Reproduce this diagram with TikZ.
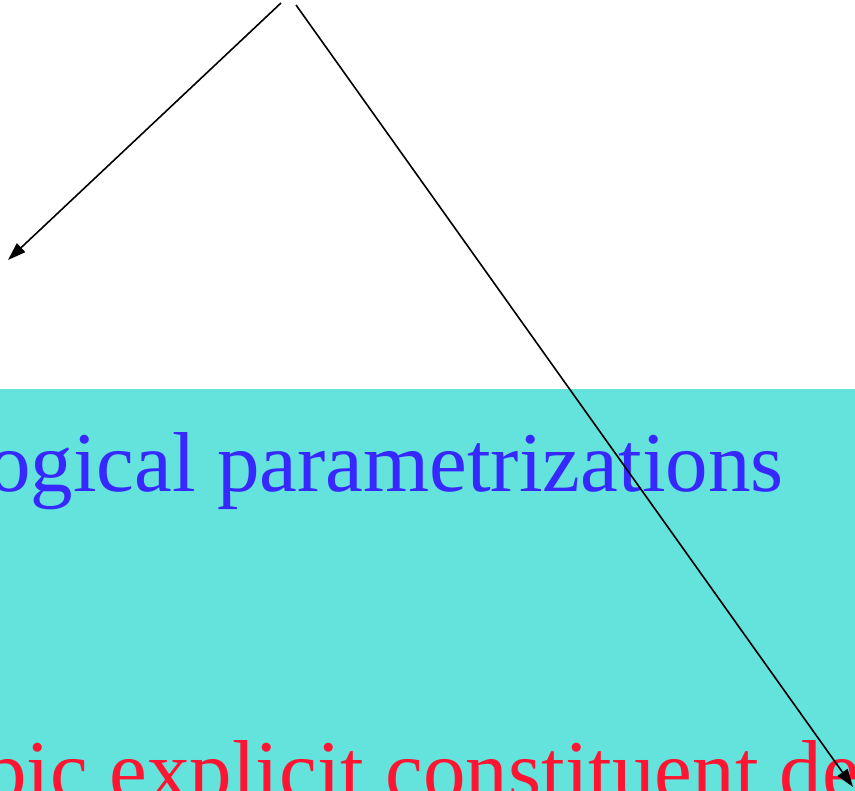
\documentclass[tikz,border=0pt]{standalone}
\usepackage{fontspec}
\setmainfont{Liberation Serif}
\usetikzlibrary{arrows.meta}
\definecolor{turq}{RGB}{100,226,220}
\definecolor{tblue}{RGB}{55,40,255}
\definecolor{tred}{RGB}{255,20,50}
\tikzset{
  bigtext/.style={anchor=base west, inner sep=0pt, font=\fontsize{85}{100}\selectfont},
  arr/.style={draw=black, line width=1.6pt, -{Triangle[length=18pt,width=12pt]}}
}
\begin{document}
\begin{tikzpicture}[x=1pt,y=1pt]
\useasboundingbox (0,0) rectangle (855,791);
\clip (0,0) rectangle (855,791);
\fill[white] (0,0) rectangle (855,791);
\fill[turq] (0,0) rectangle (855,402);
\node[bigtext, text=tblue] (t1) at (-12,299) {ogical parametrizations};
\node[bigtext, text=tred] (t2) at (-16,-9) {pic explicit constituent de};
\coordinate (s1) at (281,788);
\coordinate (e1) at (8,531);
\coordinate (s2) at (296,786);
\coordinate (e2) at (853,4);
\draw[arr] (s1) -- (e1);
\draw[arr] (s2) -- (e2);
\end{tikzpicture}
\end{document}
